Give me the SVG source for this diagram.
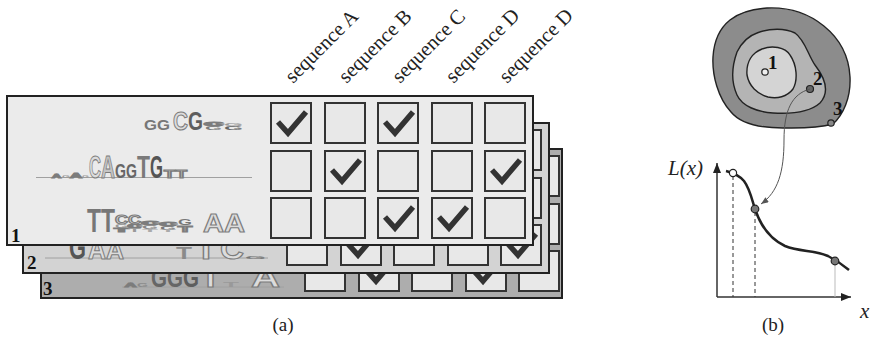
<svg xmlns="http://www.w3.org/2000/svg" xmlns:xlink="http://www.w3.org/1999/xlink" width="876" height="350" viewBox="0 0 876 350">
  <style>
    .panel { stroke: #222; stroke-width: 2; }
    .cell { fill: #e8e8e8; stroke: #333; stroke-width: 2; }
    .num { font-family: "Liberation Serif", "Times New Roman", serif; font-weight: bold; font-size: 19px; fill: #111; }
    .hdr { font-family: "Liberation Serif", "Times New Roman", serif; font-size: 20.5px; fill: #222; }
    .cap { font-family: "Liberation Serif", "Times New Roman", serif; font-size: 19px; fill: #222; }
    .it { font-family: "Liberation Serif", "Times New Roman", serif; font-style: italic; font-size: 21px; fill: #222; }
    .lg { font-family: "Liberation Sans", Arial, sans-serif; font-weight: bold; }
    .ho { fill: #dcdcdc; stroke: #7c7c7c; stroke-width: 1.1; }
    .base { stroke: #a0a0a0; stroke-width: 1; }
    .lvl { stroke: #222; stroke-width: 1.4; }
    .pt { stroke: #222; stroke-width: 1.2; }
  </style>
  <defs>
    <path id="tick" d="M7,19 L17,30 L35,9" fill="none" stroke="#333" stroke-width="5.5" stroke-linejoin="miter"/>
    <marker id="axisHead" viewBox="0 0 10 8" refX="10" refY="4" markerWidth="11" markerHeight="8" markerUnits="userSpaceOnUse" orient="auto">
      <path d="M0,0 L10,4 L0,8 Z" fill="#222"/>
    </marker>
    <marker id="linkHead" viewBox="0 0 10 8" refX="10" refY="4" markerWidth="8" markerHeight="6" markerUnits="userSpaceOnUse" orient="auto">
      <path d="M0,0 L10,4 L0,8 Z" fill="#555"/>
    </marker>
  </defs>

  <rect width="876" height="350" fill="#ffffff"/>

  <!-- back layer: set 3 -->
  <g id="panel-3" transform="translate(34,53)">
    <rect class="panel" x="7" y="96" width="521" height="149" fill="#adadad"/>
    <g>
      <rect class="cell" x="271" y="103" width="40" height="40"/>
      <rect class="cell" x="325" y="103" width="40" height="40"/>
      <rect class="cell" x="378" y="103" width="40" height="40"/>
      <rect class="cell" x="432" y="103" width="40" height="40"/>
      <rect class="cell" x="485" y="103" width="40" height="40"/>
      <rect class="cell" x="271" y="151" width="40" height="40"/>
      <rect class="cell" x="325" y="151" width="40" height="40"/>
      <rect class="cell" x="378" y="151" width="40" height="40"/>
      <rect class="cell" x="432" y="151" width="40" height="40"/>
      <rect class="cell" x="485" y="151" width="40" height="40"/>
      <rect class="cell" x="271" y="198" width="40" height="40"/>
      <rect class="cell" x="325" y="198" width="40" height="40"/>
      <rect class="cell" x="378" y="198" width="40" height="40"/>
      <rect class="cell" x="432" y="198" width="40" height="40"/>
      <rect class="cell" x="485" y="198" width="40" height="40"/>
    </g>
    <use href="#tick" x="325" y="198"/>
    <use href="#tick" x="432" y="198"/>
    <g>
      <line class="base" x1="88" y1="234" x2="250" y2="234"/>
      <text class="lg ho" x="91" y="234" font-size="6" textLength="11" lengthAdjust="spacingAndGlyphs">A</text>
      <text class="lg" x="103" y="234" font-size="5" textLength="11" lengthAdjust="spacingAndGlyphs" fill="#8a8a8a">G</text>
      <text class="lg" x="117" y="234" font-size="28" textLength="16" lengthAdjust="spacingAndGlyphs" fill="#666">G</text>
      <text class="lg" x="133" y="234" font-size="28" textLength="16" lengthAdjust="spacingAndGlyphs" fill="#666">G</text>
      <text class="lg" x="149" y="234" font-size="28" textLength="16" lengthAdjust="spacingAndGlyphs" fill="#5e5e5e">G</text>
      <text class="lg ho" x="166" y="234" font-size="25" textLength="21" lengthAdjust="spacingAndGlyphs">T</text>
      <text class="lg" x="189" y="234" font-size="8" textLength="16" lengthAdjust="spacingAndGlyphs" fill="#999">T</text>
      <text class="lg ho" x="217" y="234" font-size="28" textLength="29" lengthAdjust="spacingAndGlyphs">A</text>
    </g>
    <text class="num" x="9" y="242">3</text>
  </g>

  <!-- middle layer: set 2 -->
  <g id="panel-2" transform="translate(16,27)">
    <rect class="panel" x="7" y="96" width="526" height="150" fill="#d3d3d3"/>
    <g>
      <rect class="cell" x="271" y="103" width="40" height="40"/>
      <rect class="cell" x="325" y="103" width="40" height="40"/>
      <rect class="cell" x="378" y="103" width="40" height="40"/>
      <rect class="cell" x="432" y="103" width="40" height="40"/>
      <rect class="cell" x="485" y="103" width="40" height="40"/>
      <rect class="cell" x="271" y="151" width="40" height="40"/>
      <rect class="cell" x="325" y="151" width="40" height="40"/>
      <rect class="cell" x="378" y="151" width="40" height="40"/>
      <rect class="cell" x="432" y="151" width="40" height="40"/>
      <rect class="cell" x="485" y="151" width="40" height="40"/>
      <rect class="cell" x="271" y="198" width="40" height="40"/>
      <rect class="cell" x="325" y="198" width="40" height="40"/>
      <rect class="cell" x="378" y="198" width="40" height="40"/>
      <rect class="cell" x="432" y="198" width="40" height="40"/>
      <rect class="cell" x="485" y="198" width="40" height="40"/>
    </g>
    <use href="#tick" x="325" y="198"/>
    <use href="#tick" x="485" y="198"/>
    <g>
      <line class="base" x1="29" y1="231" x2="252" y2="231"/>
      <text class="lg" x="53" y="232" font-size="33" textLength="17" lengthAdjust="spacingAndGlyphs" fill="#555">G</text>
      <text class="lg ho" x="72" y="232" font-size="29" textLength="18" lengthAdjust="spacingAndGlyphs">A</text>
      <text class="lg ho" x="90" y="232" font-size="26" textLength="18" lengthAdjust="spacingAndGlyphs">A</text>
      <text class="lg" x="160" y="232" font-size="16" textLength="16" lengthAdjust="spacingAndGlyphs" fill="#8a8a8a">T</text>
      <text class="lg ho" x="179" y="232" font-size="28" textLength="22" lengthAdjust="spacingAndGlyphs">T</text>
      <text class="lg ho" x="204" y="232" font-size="30" textLength="24" lengthAdjust="spacingAndGlyphs">C</text>
      <text class="lg" x="229" y="232" font-size="4" textLength="21" lengthAdjust="spacingAndGlyphs" fill="#777">G</text>
    </g>
    <text class="num" x="11" y="242">2</text>
  </g>

  <!-- front layer: set 1 -->
  <g id="panel-1">
    <rect class="panel" x="7" y="96" width="526" height="149" fill="#ebebeb"/>
    <g>
      <rect class="cell" x="271" y="103" width="40" height="40"/>
      <rect class="cell" x="325" y="103" width="40" height="40"/>
      <rect class="cell" x="378" y="103" width="40" height="40"/>
      <rect class="cell" x="432" y="103" width="40" height="40"/>
      <rect class="cell" x="485" y="103" width="40" height="40"/>
      <rect class="cell" x="271" y="151" width="40" height="40"/>
      <rect class="cell" x="325" y="151" width="40" height="40"/>
      <rect class="cell" x="378" y="151" width="40" height="40"/>
      <rect class="cell" x="432" y="151" width="40" height="40"/>
      <rect class="cell" x="485" y="151" width="40" height="40"/>
      <rect class="cell" x="271" y="198" width="40" height="40"/>
      <rect class="cell" x="325" y="198" width="40" height="40"/>
      <rect class="cell" x="378" y="198" width="40" height="40"/>
      <rect class="cell" x="432" y="198" width="40" height="40"/>
      <rect class="cell" x="485" y="198" width="40" height="40"/>
    </g>
    <use href="#tick" x="271" y="103"/>
    <use href="#tick" x="378" y="103"/>
    <use href="#tick" x="325" y="151"/>
    <use href="#tick" x="485" y="151"/>
    <use href="#tick" x="378" y="198"/>
    <use href="#tick" x="432" y="198"/>

    <!-- motif logo, row 1 -->
    <g>
      <text class="lg" x="144" y="130" font-size="15" textLength="13" lengthAdjust="spacingAndGlyphs" fill="#777">G</text>
      <text class="lg" x="157" y="130" font-size="15" textLength="13" lengthAdjust="spacingAndGlyphs" fill="#777">G</text>
      <text class="lg ho" x="173" y="130" font-size="26" textLength="15" lengthAdjust="spacingAndGlyphs">C</text>
      <text class="lg" x="188" y="130" font-size="26" textLength="15" lengthAdjust="spacingAndGlyphs" fill="#5e5e5e">G</text>
      <line class="base" x1="206" y1="122.5" x2="221" y2="122.5"/>
      <text class="lg ho" x="205" y="126" font-size="4.5" textLength="17" lengthAdjust="spacingAndGlyphs">C</text>
      <text class="lg" x="205" y="130" font-size="5.5" textLength="17" lengthAdjust="spacingAndGlyphs" fill="#7a7a7a">G</text>
      <text class="lg" x="224" y="126" font-size="4" textLength="19" lengthAdjust="spacingAndGlyphs" fill="#9a9a9a">G</text>
      <text class="lg" x="224" y="130" font-size="6" textLength="19" lengthAdjust="spacingAndGlyphs" fill="#666">G</text>
    </g>

    <!-- motif logo, row 2 -->
    <g>
      <line class="base" x1="36" y1="177.5" x2="252" y2="177.5"/>
      <text class="lg ho" x="52" y="178" font-size="6" textLength="9" lengthAdjust="spacingAndGlyphs">A</text>
      <text class="lg" x="62" y="178" font-size="4" textLength="8" lengthAdjust="spacingAndGlyphs" fill="#999">G</text>
      <text class="lg ho" x="70" y="178" font-size="8" textLength="12" lengthAdjust="spacingAndGlyphs">A</text>
      <text class="lg" x="82" y="178" font-size="4" textLength="7" lengthAdjust="spacingAndGlyphs" fill="#999">G</text>
      <text class="lg ho" x="89" y="178" font-size="32" textLength="12" lengthAdjust="spacingAndGlyphs">C</text>
      <text class="lg" x="101" y="178" font-size="32" textLength="14" lengthAdjust="spacingAndGlyphs" fill="#c4c4c4" stroke="#7a7a7a" stroke-width="1">A</text>
      <text class="lg" x="115" y="178" font-size="19.5" textLength="11" lengthAdjust="spacingAndGlyphs" fill="#666">G</text>
      <text class="lg" x="126" y="178" font-size="19.5" textLength="11" lengthAdjust="spacingAndGlyphs" fill="#666">G</text>
      <text class="lg" x="137" y="178" font-size="32" textLength="13" lengthAdjust="spacingAndGlyphs" fill="#7a7a7a">T</text>
      <text class="lg" x="150" y="178" font-size="32" textLength="13" lengthAdjust="spacingAndGlyphs" fill="#555">G</text>
      <text class="lg ho" x="164" y="178" font-size="10" textLength="11" lengthAdjust="spacingAndGlyphs">T</text>
      <text class="lg ho" x="176" y="178" font-size="10" textLength="11" lengthAdjust="spacingAndGlyphs">T</text>
    </g>

    <!-- motif logo, row 3 -->
    <g>
      <text class="lg" x="87" y="232" font-size="33" textLength="14" lengthAdjust="spacingAndGlyphs" fill="#777">T</text>
      <text class="lg" x="101" y="232" font-size="33" textLength="14" lengthAdjust="spacingAndGlyphs" fill="#777">T</text>
      <text class="lg ho" x="115" y="224" font-size="12" textLength="13" lengthAdjust="spacingAndGlyphs">C</text>
      <text class="lg" x="115" y="228" font-size="5" textLength="13" lengthAdjust="spacingAndGlyphs" fill="#999">G</text>
      <text class="lg ho" x="115" y="232" font-size="5" textLength="13" lengthAdjust="spacingAndGlyphs">T</text>
      <text class="lg ho" x="128" y="224" font-size="12" textLength="13" lengthAdjust="spacingAndGlyphs">C</text>
      <text class="lg ho" x="128" y="228" font-size="5" textLength="13" lengthAdjust="spacingAndGlyphs">C</text>
      <text class="lg" x="128" y="232" font-size="5" textLength="13" lengthAdjust="spacingAndGlyphs" fill="#999">T</text>
      <text class="lg ho" x="142" y="225" font-size="5" textLength="16" lengthAdjust="spacingAndGlyphs">C</text>
      <text class="lg" x="142" y="229" font-size="5" textLength="16" lengthAdjust="spacingAndGlyphs" fill="#888">G</text>
      <text class="lg" x="142" y="232" font-size="4" textLength="16" lengthAdjust="spacingAndGlyphs" fill="#aaa">T</text>
      <text class="lg ho" x="160" y="226" font-size="5" textLength="16" lengthAdjust="spacingAndGlyphs">C</text>
      <text class="lg" x="160" y="229.5" font-size="5" textLength="16" lengthAdjust="spacingAndGlyphs" fill="#777">G</text>
      <text class="lg" x="160" y="232" font-size="4" textLength="16" lengthAdjust="spacingAndGlyphs" fill="#aaa">T</text>
      <text class="lg" x="178" y="225" font-size="9" textLength="14" lengthAdjust="spacingAndGlyphs" fill="#777">G</text>
      <text class="lg ho" x="178" y="232" font-size="9" textLength="14" lengthAdjust="spacingAndGlyphs">T</text>
      <text class="lg ho" x="203" y="232" font-size="26" textLength="21" lengthAdjust="spacingAndGlyphs">A</text>
      <text class="lg ho" x="224" y="232" font-size="26" textLength="21" lengthAdjust="spacingAndGlyphs">A</text>
    </g>
    <text class="num" x="11" y="242">1</text>
  </g>

  <!-- column headers -->
  <g id="headers">
    <text class="hdr" transform="translate(293,84) rotate(-45)">sequence A</text>
    <text class="hdr" transform="translate(346.5,84) rotate(-45)">sequence B</text>
    <text class="hdr" transform="translate(400,84) rotate(-45)">sequence C</text>
    <text class="hdr" transform="translate(453.5,84) rotate(-45)">sequence D</text>
    <text class="hdr" transform="translate(507,84) rotate(-45)">sequence D</text>
  </g>

  <text id="caption-a" class="cap" x="283" y="331" text-anchor="middle">(a)</text>

  <!-- level sets of the landscape -->
  <g id="landscape">
    <path class="lvl" fill="#8c8c8c" d="M767,8 C810,6 848,35 850,77 C851,98 843,115 833,124 C815,129 795,128 783,128 C760,128 740,123 731,112 C718,98 712,75 713,57 C714,40 720,28 730,20 C740,12 752,9 767,8 Z"/>
    <path class="lvl" fill="#b4b4b4" d="M757,33 C770,28 785,28 795,33 C805,40 808,55 815,65 C825,78 830,92 820,103 C810,112 790,114 773,113 C757,112 742,106 737,95 C731,82 732,66 737,52 C742,42 748,36 757,33 Z"/>
    <path class="lvl" fill="#d4d4d4" d="M762,49 C772,45 785,47 790,55 C797,65 798,80 793,89 C787,97 777,99 768,97 C757,94 749,86 747,75 C746,62 752,53 762,49 Z"/>
  </g>
  <g id="point-1">
    <circle class="pt" cx="765" cy="72" r="3.2" fill="#eeeeee"/>
    <text class="num" x="768" y="69" font-size="15">1</text>
  </g>
  <g id="point-2">
    <circle class="pt" cx="810" cy="89" r="3.5" fill="#666"/>
    <text class="num" x="813" y="85" font-size="15">2</text>
  </g>
  <g id="point-3">
    <circle class="pt" cx="831" cy="123" r="3.2" fill="#888"/>
    <text class="num" x="833" y="115" font-size="15">3</text>
  </g>

  <!-- L(x) plot -->
  <g id="plot">
    <line x1="717" y1="297" x2="717" y2="163" stroke="#333" stroke-width="1.5" marker-end="url(#axisHead)"/>
    <line x1="717" y1="297" x2="851" y2="297" stroke="#333" stroke-width="1.5" marker-end="url(#axisHead)"/>
    <line x1="733" y1="176" x2="733" y2="297" stroke="#333" stroke-width="1" stroke-dasharray="4,3"/>
    <line x1="755" y1="212" x2="755" y2="297" stroke="#333" stroke-width="1" stroke-dasharray="4,3"/>
    <line x1="835" y1="264" x2="835" y2="297" stroke="#bbb" stroke-width="1"/>
    <path d="M726,171 C730,172 738,174 744,181 C750,189 752,200 755,209 C760,224 768,238 785,246 C800,252 815,250 828,256 C838,261 843,265 849,270" fill="none" stroke="#222" stroke-width="2.5"/>
    <circle class="pt" cx="733" cy="173" r="3.6" fill="#ffffff"/>
    <circle class="pt" cx="755" cy="209" r="3.8" fill="#777"/>
    <circle class="pt" cx="835" cy="261" r="3.8" fill="#777"/>
    <text class="it" x="668" y="175">L(x)</text>
    <text class="it" x="860" y="318">x</text>
  </g>

  <!-- link from landscape point 2 to its place on the curve -->
  <g id="connectors">
    <path d="M810,89 C792,94 784,110 784,140 C784,172 778,192 761,204" fill="none" stroke="#555" stroke-width="1" marker-end="url(#linkHead)"/>
  </g>

  <text id="caption-b" class="cap" x="773" y="331" text-anchor="middle">(b)</text>
</svg>
